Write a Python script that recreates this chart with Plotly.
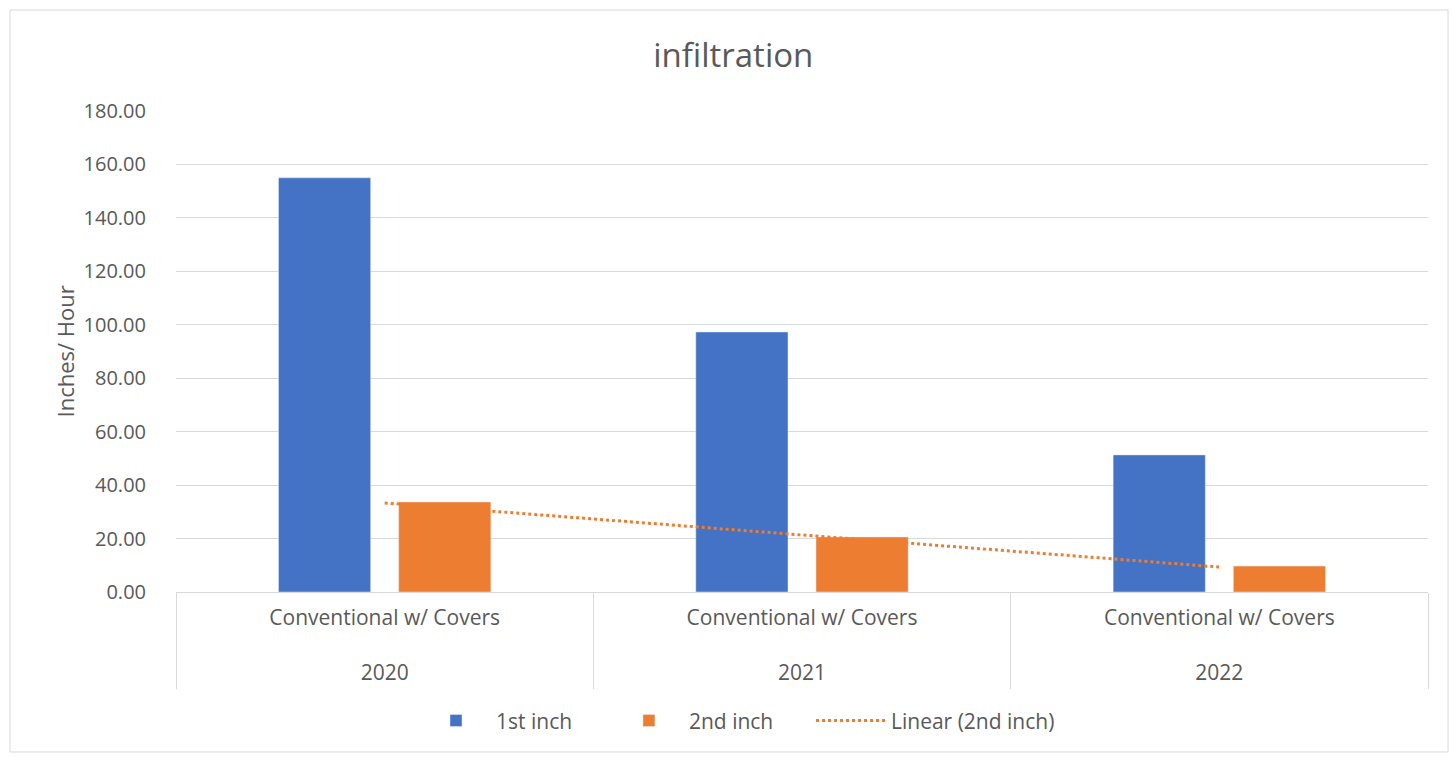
import numpy as np
import plotly.graph_objects as go

years = ["2020", "2021", "2022"]
treatment = ["Conventional w/ Covers", "Conventional w/ Covers", "Conventional w/ Covers"]
first_inch = [155.0, 97.3, 51.3]
second_inch = [33.7, 20.6, 9.7]
y_ticks = [0, 20, 40, 60, 80, 100, 120, 140, 160, 180]

# Linear trendline (least squares on category index), as Excel does
idx = np.arange(1, len(second_inch) + 1)
slope, intercept = np.polyfit(idx, second_inch, 1)
trend = list(slope * idx + intercept)

tick_text = [f"{t}<br> <br>{y}" for t, y in zip(treatment, years)]
FONT = "Open Sans"
GREY = "#595959"
LINE = "#d9d9d9"

fig = go.Figure()
fig.add_trace(go.Scatter(x=years, y=trend, mode="lines", name="Linear (2nd inch)", showlegend=True,
                         line=dict(color="#ED7D31", width=3, dash="dot"), legend="legend3"))
fig.add_trace(go.Bar(x=years, y=first_inch, name="1st inch", marker_color="#4472C4",
                     legend="legend", showlegend=True))
fig.add_trace(go.Bar(x=years, y=second_inch, name="2nd inch", marker_color="#ED7D31",
                     legend="legend2", showlegend=True))

def leg(x):
    return dict(orientation="h", x=x, xanchor="left", y=-0.268, yanchor="middle",
                font=dict(size=21, color=GREY), itemwidth=70, bgcolor="rgba(0,0,0,0)")

fig.update_layout(
    width=1452, height=757,
    margin=dict(l=176, r=24, t=111, b=165),
    paper_bgcolor="white", plot_bgcolor="white",
    showlegend=True,
    font=dict(family=FONT, color=GREY, size=20),
    title=dict(text="infiltration", x=0.505, xanchor="center", y=0.927, yanchor="middle",
               font=dict(size=33, color=GREY, family=FONT)),
    barmode="group", bargap=0.424, bargroupgap=0.233,
    legend=leg(0.1917), legend2=leg(0.3458), legend3=leg(0.5072),
    xaxis=dict(type="category", showgrid=False, showline=True, linecolor=LINE, linewidth=1,
               tickmode="array", tickvals=years, ticktext=tick_text,
               ticks="outside", tickson="boundaries", ticklen=96, tickcolor=LINE, tickwidth=1,
               ticklabelstandoff=7, tickfont=dict(size=21, color=GREY)),
    yaxis=dict(range=[0, 180], tickvals=y_ticks, tickformat=".2f", showgrid=True,
               gridcolor=LINE, gridwidth=1, zeroline=False, showline=False,
               tickfont=dict(size=20, color=GREY), ticklabelstandoff=29),
    annotations=[dict(text="Inches/ Hour", xref="paper", yref="paper", x=-0.0887, y=0.5,
                      textangle=-90, xanchor="center", yanchor="middle", showarrow=False,
                      font=dict(size=22, color=GREY, family=FONT))],
    shapes=[dict(type="rect", xref="paper", yref="paper", x0=-0.1326, x1=1.016, y0=-0.3326, y1=1.21,
                 line=dict(color=LINE, width=1), fillcolor="rgba(0,0,0,0)", layer="below")],
)

fig.write_html("out.html")
